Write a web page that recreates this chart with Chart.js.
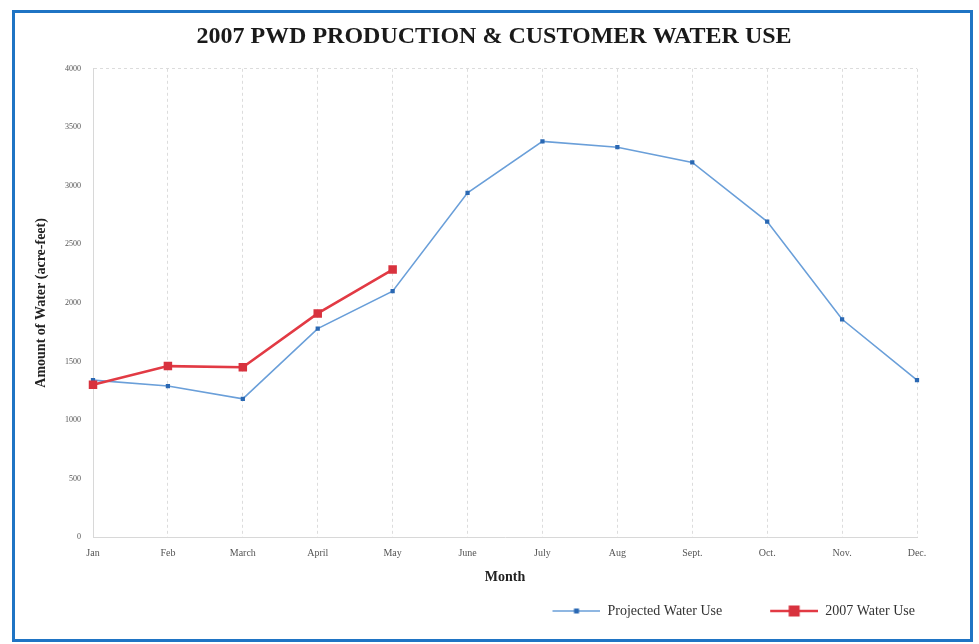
<!DOCTYPE html>
<html>
<head>
<meta charset="utf-8">
<script src="https://cdn.jsdelivr.net/npm/chart.js@4.4.0/dist/chart.umd.min.js"></script>
<style>
  html, body { margin: 0; padding: 0; background: #fff; }
  #wrap { position: relative; width: 979px; height: 644px; }
  #frame { position: absolute; left: 12px; top: 10px; width: 955px; height: 626px; border: 3px solid #1f74c4; box-sizing: content-box; pointer-events: none; }
  canvas { position: absolute; left: 0; top: 0; }
</style>
</head>
<body>
<div id="wrap">
  <canvas id="grafico" width="979" height="644"></canvas>
  <div id="frame"></div>
</div>
<script>
const months = ["Jan", "Feb", "March", "April", "May", "June", "July", "Aug", "Sept.", "Oct.", "Nov.", "Dec."];
const projectedUse = [1340, 1290, 1180, 1780, 2100, 2940, 3380, 3330, 3200, 2695, 1860, 1340];
const use2007 = [1300, 1460, 1450, 1910, 2285];
const yTicks = [0, 500, 1000, 1500, 2000, 2500, 3000, 3500, 4000];

const serif = "'Liberation Serif', 'DejaVu Serif', serif";

// legend pictures: blank space on the left, then line with the marker in the middle
function legendPic(color, markColor, lineW, mark) {
    let c = document.createElement('canvas');
    c.width = 86; c.height = 14;
    let g = c.getContext('2d');
    g.strokeStyle = color;
    g.lineWidth = lineW;
    g.beginPath();
    g.moveTo(38, 7);
    g.lineTo(86, 7);
    g.stroke();
    g.fillStyle = markColor;
    g.fillRect(62 - mark / 2, 7 - mark / 2, mark, mark);
    return c;
}
const picBlue = legendPic('#6a9fd9', '#2a68b3', 1.5, 5);
const picRed = legendPic('#e23a44', '#d8323e', 2.5, 11);

var ctx = document.getElementById('grafico').getContext('2d');
var grafico = new Chart(ctx, {
    type: 'line',
    data: {
        labels: months,
        datasets: [
            {
                label: "Projected Water Use",
                data: projectedUse,
                borderColor: '#6a9fd9',
                backgroundColor: '#2a68b3',
                borderWidth: 1.6,
                pointStyle: 'rect',
                pointRadius: 3,
                pointBorderWidth: 0,
                tension: 0,
                order: 1
            },
            {
                label: "2007 Water Use",
                data: use2007,
                borderColor: '#e23a44',
                backgroundColor: '#d8323e',
                borderWidth: 2.6,
                pointStyle: 'rect',
                pointRadius: 6,
                pointBorderWidth: 0,
                tension: 0,
                order: 0
            }
        ]
    },
    options: {
        responsive: false,
        animation: false,
        layout: { padding: { left: 63, right: 54, top: 0, bottom: 16 } },
        plugins: {
            title: {
                display: true,
                text: "2007 PWD PRODUCTION & CUSTOMER WATER USE",
                color: '#1a1a1a',
                font: { family: serif, size: 24, weight: 'bold' },
                padding: { top: 22, bottom: 18 }
            },
            legend: {
                position: 'bottom',
                align: 'end',
                labels: {
                    usePointStyle: true,
                    pointStyleWidth: 86,
                    color: '#333',
                    font: { family: serif, size: 14 },
                    padding: 10,
                    sort: (a, b) => a.datasetIndex - b.datasetIndex,
                    generateLabels: function(chart) {
                        let items = Chart.defaults.plugins.legend.labels.generateLabels(chart);
                        items.forEach(it => { it.pointStyle = it.datasetIndex === 0 ? picBlue : picRed; });
                        return items;
                    }
                }
            },
            tooltip: { enabled: false }
        },
        scales: {
            x: {
                offset: false,
                grid: { display: true, color: '#dcdcdc', drawTicks: false },
                border: { display: true, color: '#d8d8d8', dash: [3, 3] },
                ticks: { color: '#555', font: { family: serif, size: 10 }, padding: 10, autoSkip: false, maxRotation: 0 },
                title: { display: true, text: 'Month', color: '#222', font: { family: serif, size: 14, weight: 'bold' }, padding: { top: 0, bottom: 8 } },
                afterFit: function(scale) { scale.height = 57; }
            },
            y: {
                min: 0,
                max: 4000,
                afterBuildTicks: function(scale) { scale.ticks = yTicks.map(v => ({ value: v })); },
                grid: {
                    drawTicks: false,
                    color: c => (c.tick && (c.tick.value === 0 || c.tick.value === 4000)) ? '#dcdcdc' : 'rgba(0,0,0,0)'
                },
                border: { display: true, color: '#d8d8d8', dash: [3, 3] },
                ticks: { color: '#555', font: { family: serif, size: 8 }, padding: 12, callback: v => String(v) },
                title: { display: true, text: 'Amount of Water (acre-feet)', color: '#222', font: { family: serif, size: 14, weight: 'bold' }, padding: { top: -30, bottom: 0 } },
                afterFit: function(scale) { scale.width = 30; }
            },
            spacer: {
                type: 'linear',
                position: 'right',
                display: true,
                grid: { display: false },
                border: { display: false },
                ticks: { display: false },
                afterFit: function(scale) { scale.width = 8; }
            }
        }
    }
});
</script>
</body>
</html>
